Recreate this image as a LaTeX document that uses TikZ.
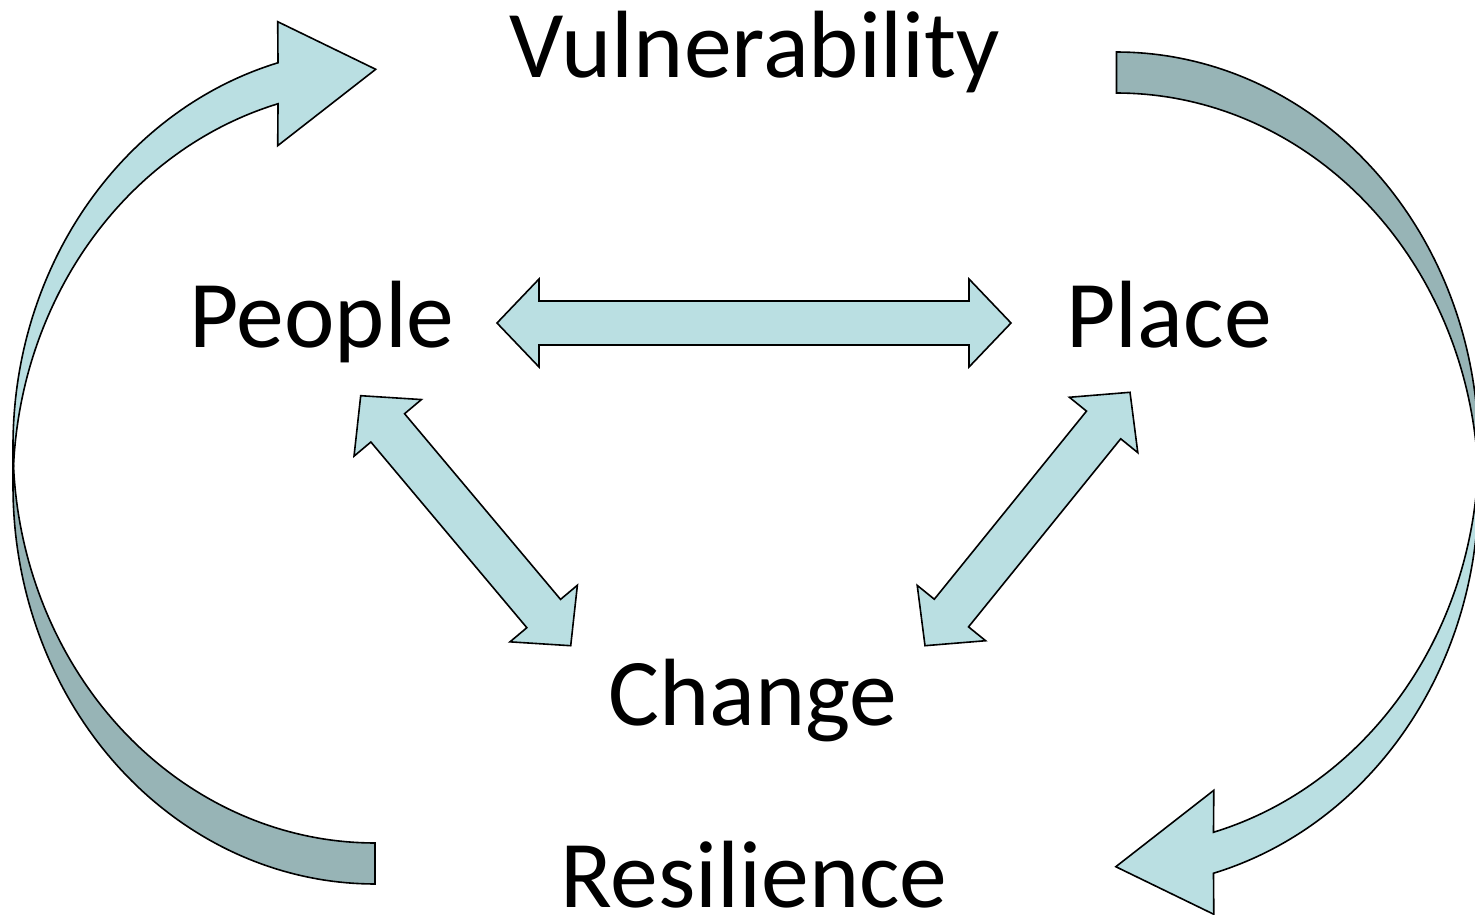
\documentclass[tikz,border=0pt]{standalone}
\usepackage{fontspec}
\setmainfont{Carlito}
\usetikzlibrary{calc}
\definecolor{lightaqua}{RGB}{186,223,226}
\definecolor{darkaqua}{RGB}{151,180,182}
\tikzset{
  blockarrow/.style={draw=black, line width=0.8pt, fill=lightaqua, line join=miter},
  backband/.style={draw=black, line width=0.8pt, fill=darkaqua, line join=miter},
  label/.style={font=\fontsize{47.8}{57}\selectfont, anchor=base, inner sep=0pt},
}
\newcommand\dblarrow[2]{%
  \draw[blockarrow] (#1)
    -- ($(#1)!21pt!(#2)!22pt!90:(#2)$)
    -- ($(#1)!21pt!(#2)!11pt!90:(#2)$)
    -- ($(#2)!21pt!(#1)!11pt!-90:(#1)$)
    -- ($(#2)!21pt!(#1)!22pt!-90:(#1)$)
    -- (#2)
    -- ($(#2)!21pt!(#1)!22pt!90:(#1)$)
    -- ($(#2)!21pt!(#1)!11pt!90:(#1)$)
    -- ($(#1)!21pt!(#2)!11pt!-90:(#2)$)
    -- ($(#1)!21pt!(#2)!22pt!-90:(#2)$)
    -- cycle;}
% two equal ellipses (rx 362, ry 397.4), centres (375,486.6) and (375,445.6)
\newcommand\loopshape{%
  % back (dark) band, lower half
  \draw[backband] plot[domain=180:90, samples=80] ({375+362*cos(\x)},{486.6+397.4*sin(\x)})
    -- (375,843)
    -- plot[domain=90:180, samples=80] ({375+362*cos(\x)},{445.6+397.4*sin(\x)}) -- cycle;
  % front (light) band with head
  \draw[blockarrow] plot[domain=180:254.46, samples=80] ({375+362*cos(\x)},{445.6+397.4*sin(\x)})
    -- (277.7,21.7) -- (375.7,69.3) -- (277.7,145.7)
    -- plot[domain=254.46:180, samples=80] ({375+362*cos(\x)},{486.6+397.4*sin(\x)}) -- cycle;}
\begin{document}
\begin{tikzpicture}[x=0.5pt, y=-0.5pt]
  \useasboundingbox (0,0) rectangle (1475,914);
  % curved arrows
  \loopshape
  \begin{scope}[rotate around={180:(745.75,468)}]
    \loopshape
  \end{scope}
  % labels
  \node[label] (vul) at (755,78) {Vulnerability};
  \node[label] (people) at (322,347) {People};
  \node[label] (place) at (1169,347) {Place};
  \node[label] (change) at (753,725) {Change};
  \node[label] (res) at (754,907) {Resilience};
  % straight double arrows
  \coordinate (h1) at (497,323);
  \coordinate (h2) at (1011,323);
  \coordinate (l1) at (360.7,395.7);
  \coordinate (l2) at (570.7,645.7);
  \coordinate (r1) at (1130,392.3);
  \coordinate (r2) at (925,645.7);
  \dblarrow{h1}{h2}
  \dblarrow{l1}{l2}
  \dblarrow{r1}{r2}
\end{tikzpicture}
\end{document}
